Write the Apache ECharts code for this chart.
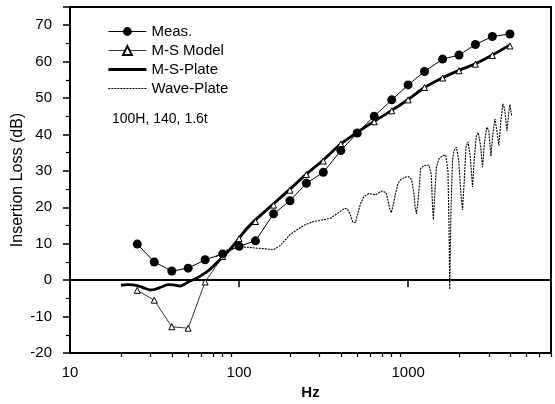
<!DOCTYPE html>
<html>
<head>
<meta charset="utf-8">
<script src="https://cdn.jsdelivr.net/npm/echarts@6/dist/echarts.min.js"></script>
<style>
html, body { margin: 0; padding: 0; background: #fff; }
#main { width: 555px; height: 404px; }
</style>
</head>
<body>
<div id="main"></div>
<script>
// 1/3 octave centre frequencies used by Meas. and M-S Model
var freqs = [25, 31.5, 40, 50, 63, 80, 100, 125, 160, 200, 250, 315, 400, 500, 630, 800, 1000, 1250, 1600, 2000, 2500, 3150, 4000];
var meas = [9.9, 5.0, 2.5, 3.3, 5.6, 7.2, 9.3, 10.8, 18.2, 21.8, 26.6, 29.6, 35.6, 40.4, 45, 49.5, 53.6, 57.3, 60.7, 61.8, 64.7, 66.9, 67.6];
var msModel = [-2.8, -5.5, -12.8, -13.2, -0.5, 6.5, 11.4, 16.1, 20.6, 24.7, 29, 32.7, 37.4, 40.4, 43.5, 46.5, 49.5, 52.9, 55.5, 57.5, 59.3, 61.7, 64.3];

// M-S-Plate (thick solid curve)
var plateFreq = [20, 22, 25, 28, 30, 32, 35, 38, 41, 45, 48, 51, 57, 63, 67, 77, 88, 100, 110, 125, 160, 200, 250, 315, 400, 500, 630, 800, 1000, 1250, 1600, 2000, 2500, 3150, 4000];
var plateVal = [-1.4, -1.2, -1.5, -2.3, -2.7, -2.5, -1.8, -1.2, -1.3, -1.6, -1.0, -0.3, 0.7, 2.0, 2.9, 5.6, 8.4, 11.5, 14.0, 16.6, 21.0, 25.0, 29.1, 33.0, 37.4, 40.6, 43.6, 46.6, 49.6, 52.9, 55.6, 57.6, 59.4, 61.8, 64.6];

// Wave-Plate (thin dotted curve)
var waveFreq = [73, 80, 88, 101, 115, 127, 145, 160, 175, 187, 200, 220, 245, 276, 310, 347, 390, 420, 436, 455, 470, 488, 505, 523, 547, 585, 620, 641, 670, 703, 740, 760, 780, 795, 815, 843, 870, 902, 950, 1011, 1050, 1080, 1100, 1120, 1145, 1187, 1250, 1329, 1370, 1395, 1411, 1430, 1470, 1524, 1600, 1670, 1720, 1745, 1763, 1790, 1830, 1870, 1930, 1990, 2050, 2097, 2140, 2200, 2260, 2330, 2404, 2460, 2530, 2600, 2680, 2756, 2830, 2923, 3000, 3090, 3170, 3260, 3350, 3443, 3540, 3637, 3720, 3843, 3950, 4000, 4100];
var waveVal = [6.5, 7.6, 8.6, 9.1, 9.0, 8.8, 8.6, 8.4, 9.5, 11, 12.5, 13.8, 15.2, 16.1, 16.5, 17, 18.6, 19.7, 19.6, 18, 16, 15.8, 18.5, 21, 22.9, 23.8, 23.6, 23.4, 24, 24.5, 24, 22, 19.5, 18.5, 20.5, 23.8, 26.5, 27.5, 28.2, 28.4, 27.5, 24, 20, 18.2, 22, 30.7, 31.5, 31.6, 29, 20, 16.6, 22, 31, 33.4, 34.2, 34.3, 30, 15, -2.5, 18, 33, 35.6, 36.5, 33, 24, 19.3, 26, 36.5, 38, 34, 25.6, 33, 39.5, 40.5, 37, 31, 38, 42, 41, 34, 40, 44.3, 41, 37, 44, 48.4, 47, 41, 46.5, 48.2, 45];

// minor ticks of the log axis
var minorTicks = [20, 30, 40, 50, 60, 70, 80, 90, 200, 300, 400, 500, 600, 700, 800, 900, 2000, 3000, 4000, 5000, 6000, 7000];

var chartDom = document.getElementById('main');
var myChart = echarts.init(chartDom);
var option;

function pairs(xs, ys) {
    var out = [];
    for (var i = 0; i < xs.length; i++) {
        out.push([xs[i], ys[i]]);
    }
    return out;
}

var fontFam = 'Liberation Sans, Arial, sans-serif';

option = {
    animation: false,
    backgroundColor: '#fff',
    textStyle: { fontFamily: fontFam, color: '#000' },
    title: {
        text: '100H, 140, 1.6t',
        left: 112,
        top: 112,
        padding: 0,
        textStyle: { fontSize: 14, fontWeight: 'normal', color: '#000', fontFamily: fontFam }
    },
    legend: {
        orient: 'vertical',
        left: 107,
        top: 24,
        padding: 0,
        itemGap: 4,
        itemWidth: 38,
        itemHeight: 11,
        textStyle: { fontSize: 15, color: '#000', fontFamily: fontFam },
        data: [
            { name: 'Meas.', lineStyle: { width: 1 } },
            { name: 'M-S Model', lineStyle: { width: 0.8 } },
            { name: 'M-S-Plate', lineStyle: { width: 2.8 } },
            { name: 'Wave-Plate', lineStyle: { width: 1.1 } }
        ]
    },
    grid: {
        left: 70,
        right: 4,
        top: 7,
        bottom: 51,
        outerBoundsMode: 'none',
        show: true,
        borderColor: '#000',
        borderWidth: 2
    },
    xAxis: [
        {
            type: 'log',
            logBase: 10,
            min: 10,
            max: 7000,
            name: 'Hz',
            nameLocation: 'middle',
            nameGap: 30,
            nameTextStyle: { fontSize: 15, fontWeight: 'bold', color: '#000', fontFamily: fontFam },
            axisLine: { lineStyle: { color: '#000', width: 2 } },
            axisTick: { length: 7, lineStyle: { color: '#000', width: 1.5 } },
            axisLabel: {
                fontSize: 15, margin: 12, color: '#000', showMaxLabel: false,
                formatter: function (v) { return String(v); }
            },
            splitLine: { show: false },
            minorTick: { show: false }
        },
        {
            // helper axis in log10 space, only for the minor ticks
            type: 'value',
            min: 1,
            max: Math.log10(7000),
            position: 'bottom',
            axisLine: { show: false },
            axisTick: {
                show: true,
                length: 4,
                lineStyle: { color: '#000', width: 1.2 },
                customValues: minorTicks.map(function (v) { return Math.log10(v); })
            },
            axisLabel: { show: false },
            splitLine: { show: false }
        }
    ],
    yAxis: {
        type: 'value',
        min: -20,
        max: 75,
        interval: 10,
        name: 'Insertion Loss (dB)',
        nameLocation: 'middle',
        nameGap: 44,
        nameMoveOverlap: false,
        nameTextStyle: { fontSize: 16, color: '#000', fontFamily: fontFam },
        axisLine: { show: true, lineStyle: { color: '#000', width: 2 } },
        axisTick: { length: 7, lineStyle: { color: '#000', width: 1.5 } },
        minorTick: { show: true, splitNumber: 2, length: 4, lineStyle: { color: '#000', width: 1.2 } },
        axisLabel: { fontSize: 15, margin: 18, color: '#000', showMaxLabel: false },
        splitLine: { show: false }
    },
    series: [
        {
            name: 'Meas.',
            type: 'line',
            data: pairs(freqs, meas),
            symbol: 'circle',
            symbolSize: 9,
            itemStyle: { color: '#000' },
            lineStyle: { color: '#000', width: 1 },
            z: 5
        },
        {
            name: 'M-S Model',
            type: 'line',
            data: pairs(freqs, msModel),
            symbol: 'triangle',
            symbolSize: 6,
            itemStyle: { color: '#fff', borderColor: '#000', borderWidth: 1 },
            lineStyle: { color: '#000', width: 0.8 },
            z: 4
        },
        {
            name: 'M-S-Plate',
            type: 'line',
            data: pairs(plateFreq, plateVal),
            symbol: 'circle',
            showSymbol: false,
            smooth: 0.3,
            lineStyle: { color: '#000', width: 2.8 },
            itemStyle: { color: 'rgba(0,0,0,0)' },
            z: 3
        },
        {
            name: 'Wave-Plate',
            type: 'line',
            data: pairs(waveFreq, waveVal),
            symbol: 'circle',
            showSymbol: false,
            lineStyle: { color: '#000', width: 1.1, type: [2, 1] },
            itemStyle: { color: 'rgba(0,0,0,0)' },
            z: 2
        }
    ]
};

option && myChart.setOption(option);
</script>
</body>
</html>
